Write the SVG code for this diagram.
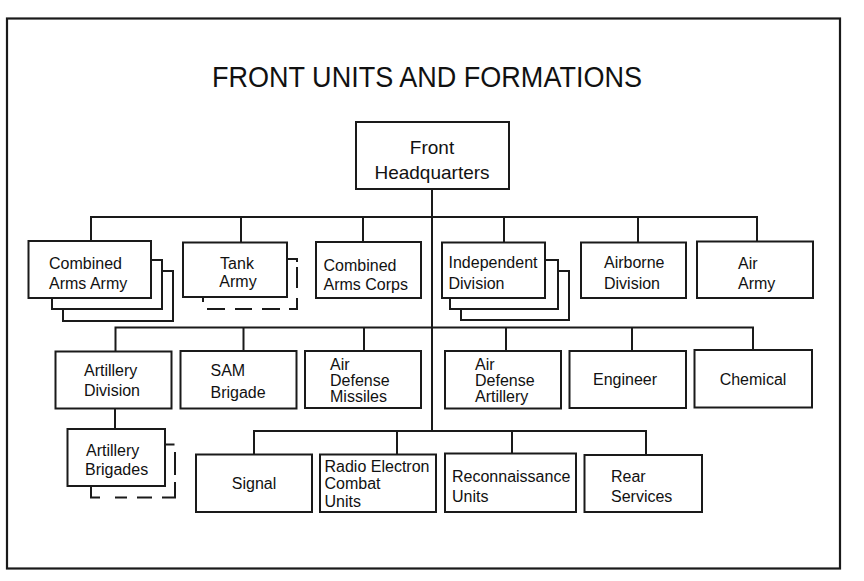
<svg xmlns="http://www.w3.org/2000/svg" width="864" height="581" viewBox="0 0 864 581">
<style>
.bx{fill:#fff;stroke:#1a1a1a;stroke-width:2}
.sh{fill:none;stroke:#1a1a1a;stroke-width:2}
.ln{fill:none;stroke:#1a1a1a;stroke-width:2}
text{font-family:"Liberation Sans",Arial,sans-serif;font-size:16px;fill:#111}
.m{text-anchor:middle}
</style>
<rect x="0" y="0" width="864" height="581" fill="#fff"/>
<rect x="7" y="18.5" width="833" height="550" fill="none" stroke="#1a1a1a" stroke-width="2.2"/>
<text x="212" y="86.5" style="font-size:29px" textLength="430" lengthAdjust="spacingAndGlyphs">FRONT UNITS AND FORMATIONS</text>

<g id="connectors" class="ln">
<path d="M432,189 V431"/>
<path d="M91,242 V217 H757 V242 M241,217 V242 M363,217 V242 M504,217 V242 M638,217 V242"/>
<path d="M115.5,351 V327.5 H753 V350 M243.5,327.5 V351 M364,327.5 V351 M506,327.5 V351 M632,327.5 V351"/>
<path d="M115,408.5 V429"/>
<path d="M254,454.5 V431 H646 V455 M397,431 V454.5 M512,431 V453.5"/>
</g>

<g id="hq">
<rect class="bx" x="356" y="122" width="153" height="67"/>
<text class="m" x="432" y="154" style="font-size:19px">Front</text>
<text class="m" x="432" y="179" style="font-size:19px">Headquarters</text>
</g>

<g id="combined-arms-army">
<polyline class="sh" points="162,271 173,271 173,321 63,321 63,309"/>
<polyline class="sh" points="151,260 162,260 162,309 52,309 52,298"/>
<rect class="bx" x="28.5" y="241" width="122.5" height="57"/>
<text x="49" y="269">Combined</text>
<text x="49" y="288.5">Arms Army</text>
</g>

<g id="tank-army">
<path class="sh" d="M287,259 H297 V262 M297,267 V288 M297,298 V309 H289 M280,309 H262 M252,309 H235 M225,309 H207 M203,297 V302"/>
<rect class="bx" x="183" y="242.5" width="104" height="54.5"/>
<text class="m" x="237" y="268.5">Tank</text>
<text class="m" x="238" y="287">Army</text>
</g>

<g id="combined-arms-corps">
<rect class="bx" x="316" y="242" width="105" height="56"/>
<text x="323.5" y="271">Combined</text>
<text x="323.5" y="289.5">Arms Corps</text>
</g>

<g id="independent-division">
<polyline class="sh" points="558,271 569,271 569,320 461,320 461,309"/>
<polyline class="sh" points="545,260 558,260 558,309 450,309 450,298"/>
<rect class="bx" x="442" y="242.5" width="103" height="55.5"/>
<text x="448.5" y="267.5">Independent</text>
<text x="448.5" y="289">Division</text>
</g>

<g id="airborne-division">
<rect class="bx" x="581" y="242.5" width="105" height="55.5"/>
<text x="604" y="267.5">Airborne</text>
<text x="604" y="289">Division</text>
</g>

<g id="air-army">
<rect class="bx" x="697" y="241.5" width="116" height="56.5"/>
<text x="738" y="269">Air</text>
<text x="738" y="288.5">Army</text>
</g>

<g id="artillery-division">
<rect class="bx" x="55.5" y="351.5" width="116" height="57"/>
<text x="84" y="376">Artillery</text>
<text x="84" y="396">Division</text>
</g>

<g id="sam-brigade">
<rect class="bx" x="180.5" y="351" width="116" height="57.5"/>
<text x="210.5" y="376">SAM</text>
<text x="210.5" y="397.5">Brigade</text>
</g>

<g id="air-defense-missiles">
<rect class="bx" x="305" y="351" width="116" height="57"/>
<text x="330" y="369.5">Air</text>
<text x="330" y="385.5">Defense</text>
<text x="330" y="401.5">Missiles</text>
</g>

<g id="air-defense-artillery">
<rect class="bx" x="445" y="351" width="116" height="57.5"/>
<text x="475" y="369.5">Air</text>
<text x="475" y="385.5">Defense</text>
<text x="475" y="401.5">Artillery</text>
</g>

<g id="engineer">
<rect class="bx" x="569.5" y="351" width="116.5" height="57"/>
<text class="m" x="625" y="385">Engineer</text>
</g>

<g id="chemical">
<rect class="bx" x="694.5" y="350" width="117.5" height="57.5"/>
<text class="m" x="753" y="385">Chemical</text>
</g>

<g id="artillery-brigades">
<path class="sh" d="M165,444.5 H174.5 M175,452 V475 M175,482 V497.5 H162 M152,497.5 H137 M127,497.5 H115 M100,497.5 H91 V487"/>
<rect class="bx" x="67.5" y="429" width="97.5" height="57"/>
<text x="86" y="456">Artillery</text>
<text x="85" y="475">Brigades</text>
</g>

<g id="signal">
<rect class="bx" x="196" y="454.5" width="116" height="57.5"/>
<text class="m" x="254" y="489">Signal</text>
</g>

<g id="radio-electron-combat">
<rect class="bx" x="320" y="454.5" width="116" height="57.5"/>
<text x="324.5" y="471.5">Radio Electron</text>
<text x="324.5" y="488.5">Combat</text>
<text x="324.5" y="506.5">Units</text>
</g>

<g id="reconnaissance">
<rect class="bx" x="445" y="453.5" width="131" height="58.5"/>
<text x="452" y="481.5">Reconnaissance</text>
<text x="452" y="501.5">Units</text>
</g>

<g id="rear-services">
<rect class="bx" x="584.5" y="455" width="117.5" height="57"/>
<text x="611" y="481.5">Rear</text>
<text x="611" y="501.5">Services</text>
</g>
</svg>
